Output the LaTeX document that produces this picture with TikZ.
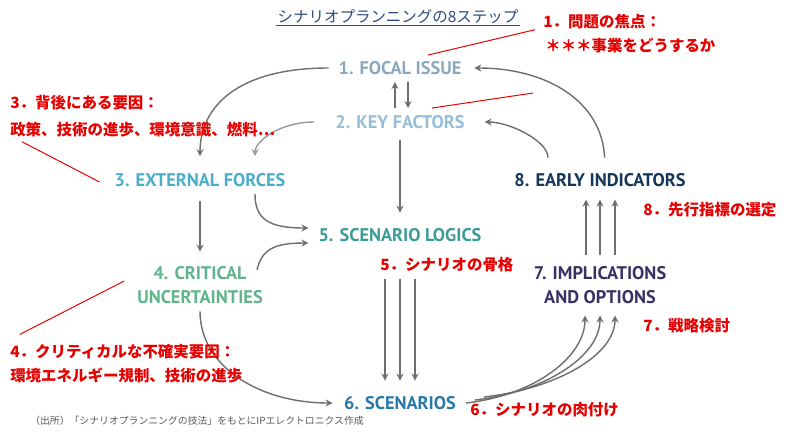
\documentclass[tikz,border=0pt]{standalone}
\usepackage{fontspec}
\setmainfont{PT Sans}
\newfontfamily\jpfont{Noto Sans CJK JP}
\usepackage{tikz}
\usetikzlibrary{positioning, calc, arrows.meta}

\definecolor{focalc}{HTML}{8AA9C0}
\definecolor{keyc}{HTML}{96BED7}
\definecolor{extc}{HTML}{4AAEC8}
\definecolor{critc}{HTML}{5FB48C}
\definecolor{logicc}{HTML}{3C9B96}
\definecolor{scenc}{HTML}{2878AA}
\definecolor{implc}{HTML}{373264}
\definecolor{earlyc}{HTML}{14375A}
\definecolor{flowgray}{HTML}{6E6E6E}
\definecolor{notered}{HTML}{E60000}
\definecolor{titleblue}{HTML}{2B4A80}

\tikzset{
  stepnode/.style={font=\bfseries\fontsize{13}{17.5}\selectfont, align=center, inner xsep=7pt, inner ysep=5pt},
  flow/.style={draw=flowgray, line width=1pt, -{Stealth[length=5pt, width=5pt]}},
  note/.style={text=notered, font=\jpfont\bfseries\fontsize{11}{13}\selectfont, anchor=west, inner sep=0pt},
  callout/.style={draw=notered, line width=0.7pt}
}

\begin{document}
\begin{tikzpicture}[x=0.025cm, y=-0.025cm]
    \useasboundingbox (0,0) rectangle (800,435);

    % Title
    \node[text=titleblue, font=\jpfont\fontsize{11}{13}\selectfont, inner sep=1pt] (title) at (398,17) {シナリオプランニングの8ステップ};
    \draw[titleblue, line width=0.6pt] (title.south west) -- (title.south east);

    % Draw the eight steps
    \node[stepnode, text=focalc] (focal) at (400,68) {1. FOCAL ISSUE};
    \node[stepnode, text=keyc] (key) at (400,122) {2. KEY FACTORS};
    \node[stepnode, text=extc] (ext) at (200,180) {3. EXTERNAL FORCES};
    \node[stepnode, text=critc] (crit) at (200,285) {4. CRITICAL\\UNCERTAINTIES};
    \node[stepnode, text=logicc] (logic) at (400,235) {5. SCENARIO LOGICS};
    \node[stepnode, text=scenc] (scen) at (400,403) {6. SCENARIOS};
    \node[stepnode, text=implc] (impl) at (600,285) {7. IMPLICATIONS\\AND OPTIONS};
    \node[stepnode, text=earlyc] (early) at (600,180) {8. EARLY INDICATORS};

    % Arrows between the steps
    \draw[flow] ([xshift=-3.6pt]key.north) -- ([xshift=-3.6pt]focal.south);
    \draw[flow] ([xshift=5.7pt]focal.south) -- ([xshift=5.7pt]key.north);
    \draw[flow, shorten <=3pt, shorten >=6pt] (key.south) -- (logic.north);
    \draw[flow, shorten >=7pt] (focal.west) .. controls +(-90,0) and +(0,-60) .. (ext.north);
    \draw[flow, draw=flowgray!70, shorten <=8pt, shorten >=7pt] (key.west) .. controls +(-45,0) and +(0,-25) .. ($(ext.north)+(55,0)$);
    \draw[flow] ($(ext.south)+(55,0)$) .. controls +(0,25) and +(-40,0) .. ($(logic.west)+(0,-7)$);
    \draw[flow] ($(crit.north)+(57,11)$) .. controls +(5,-20) and +(-35,0) .. ($(logic.west)+(0,8)$);
    \draw[flow, shorten <=5pt, shorten >=5pt] (ext.south) -- (crit.north);
    \draw[flow, shorten >=1pt] (crit.south) .. controls +(0,55) and +(-75,0) .. (scen.west);
    \foreach \d in {-15,0,15} {
      \draw[flow, shorten <=21pt, shorten >=6pt] ($(logic.south)+(\d,0)$) -- ($(scen.north)+(\d,0)$);
    }
    \foreach \i/\d in {0/-15, 1/0, 2/15} {
      \draw[flow, shorten >=3pt] ($(scen.east)+(\i*9,-\i*3)$) .. controls +(70,-8) and +(0,45) .. ($(impl.south)+(\d,0)$);
    }
    \foreach \d in {-14,0,15} {
      \draw[flow, shorten <=3pt, shorten >=4pt] ($(impl.north)+(\d,0)$) -- ($(early.south)+(\d,0)$);
    }
    \draw[flow, shorten <=6pt, shorten >=7pt] ($(early.north)+(-52,0)$) .. controls +(0,-25) and +(35,0) .. (key.east);
    \draw[flow, shorten <=6pt, shorten >=2pt] ($(early.north)+(5,0)$) .. controls +(-3,-65) and +(75,0) .. (focal.east);

    % Red notes
    \node[note] (n1a) at (543,22) {1．問題の焦点：};
    \node[note] (n1b) at (545,46) {＊＊＊事業をどうするか};
    \node[note] (n3a) at (10,103) {3．背後にある要因：};
    \node[note] (n3b) at (10,130) {政策、技術の進歩、環境意識、燃料…};
    \node[note] (n4a) at (10,352) {4．クリティカルな不確実要因：};
    \node[note] (n4b) at (10,376) {環境エネルギー規制、技術の進歩};
    \node[note] (n5) at (380,265) {5．シナリオの骨格};
    \node[note] (n6) at (470,410) {6．シナリオの肉付け};
    \node[note] (n7) at (643,326) {7．戦略検討};
    \node[note] (n8) at (643,210) {8．先行指標の選定};
    \coordinate (keytip) at (533,93);

    % Red lines to the steps
    \draw[callout] ($(focal.north)+(28,1)$) -- ($(n1a.south west)+(-8,0)$);
    \draw[callout] ($(key.north)+(32,0)$) -- (keytip);
    \draw[callout] ($(n3b.south west)+(12,4)$) -- ($(ext.west)+(-5,2)$);
    \draw[callout] ($(n4a.north west)+(10,-10)$) -- ($(crit.west)+(-3,-4)$);

    % Source
    \node[anchor=west, inner sep=0pt, text=black!65, font=\jpfont\fontsize{7}{8}\selectfont] (src) at (30,421) {（出所）「シナリオプランニングの技法」をもとにIPエレクトロニクス作成};
\end{tikzpicture}
\end{document}
